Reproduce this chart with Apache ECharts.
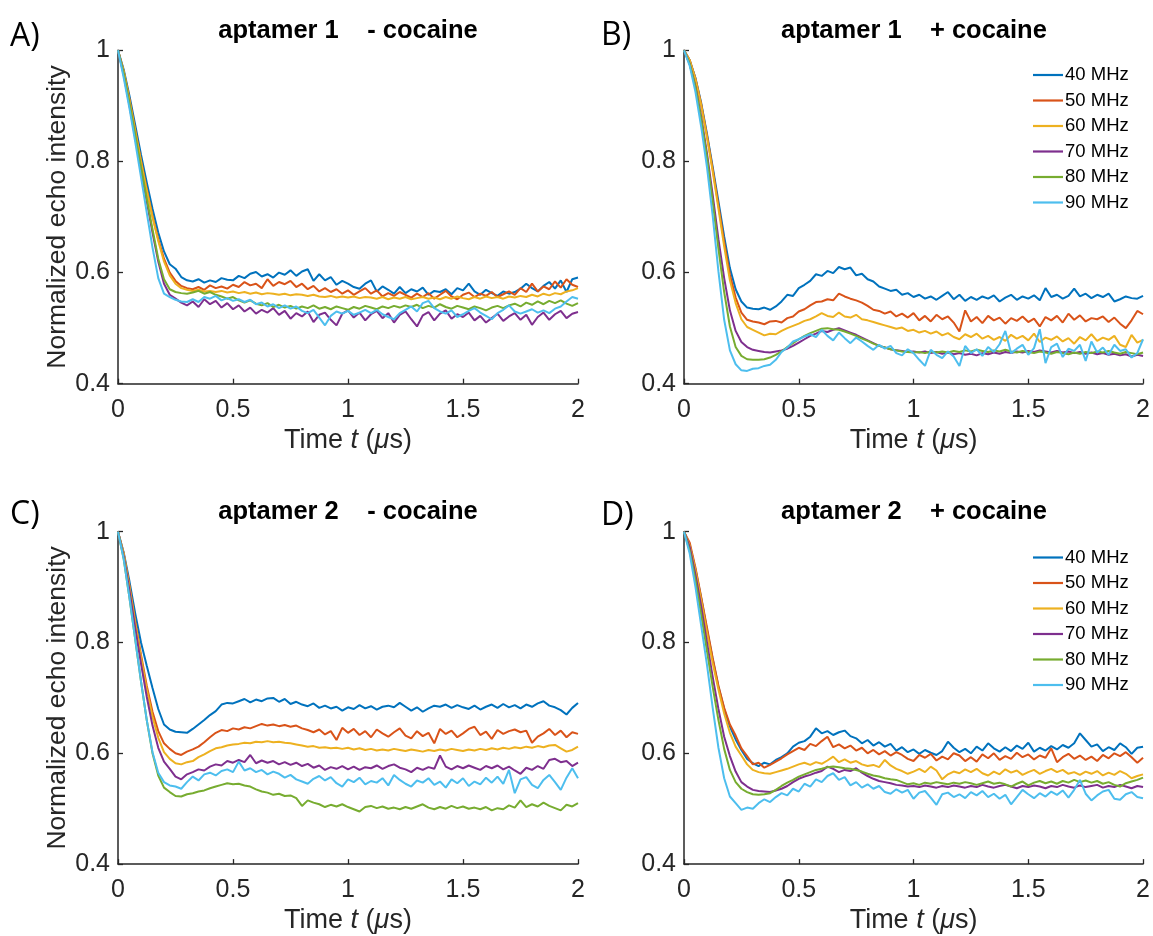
<!DOCTYPE html>
<html>
<head>
<meta charset="utf-8">
<script src="https://cdn.jsdelivr.net/npm/echarts@6/dist/echarts.min.js"></script>
<style>html,body{margin:0;padding:0;background:#fff;}#c{width:1153px;height:936px;}</style>
</head>
<body>
<div id="c"></div>
<script>
// ---------- DATA ----------
const T = [0,0.025,0.05,0.075,0.1,0.125,0.15,0.175,0.2,0.225,0.25,0.275,0.3,
0.325,0.35,0.375,0.4,0.425,0.45,0.475,0.5,
0.525,0.55,0.575,0.6,0.625,0.65,0.675,0.7,
0.725,0.75,0.775,0.8,0.825,0.85,0.875,0.9,
0.925,0.95,0.975,1,1.025,1.05,1.075,1.1,
1.125,1.15,1.175,1.2,1.225,1.25,1.275,1.3,
1.325,1.35,1.375,1.4,1.425,1.45,1.475,1.5,
1.525,1.55,1.575,1.6,1.625,1.65,1.675,1.7,
1.725,1.75,1.775,1.8,1.825,1.85,1.875,1.9,
1.925,1.95,1.975,2];

const NAMES = ['40 MHz','50 MHz','60 MHz','70 MHz','80 MHz','90 MHz'];
const TITLES = ['aptamer 1    - cocaine','aptamer 1    + cocaine','aptamer 2    - cocaine','aptamer 2    + cocaine'];
const LETTERS = ['A)','B)','C)','D)'];
const X_TICKS = [0,0.5,1,1.5,2];
const Y_TICKS = [0.4,0.6,0.8,1];
const X_LABEL = 'Time {i|t} ({i|\u03bc}s)';
const Y_LABEL = 'Normalized echo intensity';

// Panel A: aptamer 1 - cocaine
const A40 = [1.000,0.965,0.918,0.865,0.812,0.762,0.715,0.672,0.638,0.615,0.607,0.592,0.586,
.584,.588,.582,.586,.583,.590,.587,.586,
.594,.590,.598,.601,.593,.597,.591,.600,
.596,.604,.594,.602,.606,.585,.597,.586,
.592,.578,.585,.580,.574,.571,.580,.586,
.566,.575,.569,.562,.574,.563,.570,.566,
.573,.560,.567,.565,.570,.561,.572,.568,
.580,.566,.560,.569,.563,.558,.566,.562,
.565,.571,.580,.572,.566,.576,.583,.571,
.586,.565,.588,.591];
const A50 = [1.000,0.962,0.912,0.857,0.802,0.750,0.702,0.660,0.625,0.600,0.585,0.576,0.572,
.570,.574,.569,.577,.572,.575,.571,.578,
.574,.583,.577,.580,.572,.588,.576,.583,
.579,.585,.574,.580,.570,.576,.566,.572,
.565,.570,.562,.568,.560,.566,.572,.562,
.568,.557,.563,.558,.565,.560,.555,.562,
.556,.563,.553,.560,.567,.557,.552,.560,
.564,.556,.562,.558,.565,.556,.561,.566,
.560,.572,.565,.580,.566,.575,.570,.584,
.573,.588,.578,.574];
const A60 = [1.000,0.962,0.910,0.855,0.800,0.748,0.700,0.657,0.620,0.595,0.580,0.572,0.569,
.567,.569,.566,.567,.565,.567,.564,.566,
.563,.565,.562,.564,.561,.563,.562,.560,
.562,.559,.561,.560,.558,.560,.557,.556,
.558,.555,.557,.555,.557,.554,.556,.555,
.553,.556,.552,.555,.553,.556,.552,.554,
.556,.553,.555,.552,.556,.553,.557,.554,
.552,.556,.553,.557,.554,.556,.553,.557,
.555,.558,.556,.560,.557,.562,.559,.563,
.561,.566,.568,.572];
const A70 = [1.000,0.955,0.900,0.842,0.785,0.728,0.672,0.620,0.580,0.560,0.553,0.546,0.541,
.548,.538,.552,.543,.549,.537,.545,.534,
.541,.530,.537,.526,.533,.528,.536,.524,
.531,.517,.527,.521,.530,.511,.524,.528,
.515,.505,.526,.532,.519,.528,.514,.525,
.531,.518,.527,.510,.524,.530,.516,.503,
.523,.529,.514,.526,.532,.517,.525,.520,
.528,.514,.522,.510,.518,.526,.513,.521,
.527,.515,.524,.506,.520,.528,.515,.525,
.531,.518,.526,.529];
const A80 = [1.000,0.958,0.905,0.848,0.790,0.733,0.678,0.625,0.588,0.570,0.565,0.563,0.562,
.564,.567,.562,.565,.560,.557,.553,.556,
.550,.546,.550,.544,.541,.545,.538,.542,
.537,.540,.535,.539,.536,.541,.535,.538,
.534,.539,.536,.533,.538,.535,.540,.537,
.534,.539,.536,.540,.537,.541,.538,.542,
.536,.540,.537,.543,.538,.535,.540,.537,
.534,.539,.536,.532,.537,.540,.536,.541,
.544,.539,.546,.542,.548,.543,.549,.545,
.550,.544,.540,.545];
const A90 = [1.000,0.950,0.895,0.835,0.772,0.708,0.645,0.590,0.562,0.556,0.551,0.548,0.547,
.552,.547,.556,.553,.558,.550,.554,.549,
.552,.547,.551,.543,.546,.539,.543,.536,
.541,.535,.539,.531,.527,.533,.519,.505,
.522,.530,.526,.531,.524,.528,.533,.527,
.533,.525,.520,.516,.527,.533,.539,.530,
.545,.549,.536,.530,.526,.532,.520,.525,
.531,.536,.528,.522,.516,.527,.533,.541,
.530,.526,.530,.534,.528,.532,.527,.535,
.539,.548,.556,.553];

// Panel B: aptamer 1 + cocaine
const B40 = [1.000,0.982,0.950,0.905,0.850,0.790,0.728,0.665,0.608,0.570,0.548,0.537,0.535,
.534,.537,.533,.539,.548,.560,.558,.572,
.578,.585,.597,.594,.603,.599,.610,.606,
.609,.595,.598,.588,.584,.575,.571,.567,
.569,.560,.563,.556,.560,.553,.557,.551,
.558,.565,.552,.560,.549,.556,.551,.557,
.553,.559,.548,.555,.560,.551,.557,.553,
.559,.550,.572,.556,.560,.553,.558,.571,
.557,.562,.554,.560,.556,.562,.548,.552,
.557,.554,.553,.558];
const B50 = [1.000,0.982,0.949,0.903,0.847,0.786,0.721,0.655,0.596,0.555,0.528,0.515,0.512,
.510,.507,.512,.513,.510,.518,.521,.530,
.534,.541,.547,.548,.552,.550,.562,.557,
.553,.550,.546,.540,.533,.531,.526,.530,
.521,.526,.519,.527,.514,.522,.512,.524,
.516,.521,.510,.494,.532,.512,.520,.509,
.522,.514,.519,.508,.518,.513,.521,.511,
.517,.503,.520,.514,.522,.510,.526,.515,
.523,.512,.518,.516,.521,.511,.519,.508,
.500,.514,.531,.525];
const B60 = [1.000,0.982,0.948,0.901,0.844,0.782,0.715,0.647,0.586,0.545,0.516,0.502,0.497,
.492,.487,.490,.489,.495,.500,.504,.508,
.513,.516,.521,.527,.522,.520,.528,.521,
.519,.524,.516,.514,.511,.508,.505,.502,
.499,.501,.495,.497,.492,.495,.490,.494,
.487,.491,.484,.480,.489,.484,.490,.481,
.486,.479,.484,.477,.488,.481,.486,.478,
.490,.475,.483,.479,.485,.476,.482,.472,
.484,.478,.489,.477,.483,.479,.486,.470,
.466,.488,.474,.479];
const B70 = [1.000,0.975,0.935,0.880,0.815,0.740,0.660,0.590,0.532,0.495,0.475,0.466,0.461,
.459,.457,.456,.458,.460,.463,.468,.474,
.480,.486,.490,.495,.493,.497,.500,.496,
.492,.488,.483,.478,.473,.468,.465,.462,
.460,.459,.457,.458,.456,.458,.455,.457,
.454,.456,.453,.455,.452,.454,.451,.455,
.453,.456,.454,.457,.455,.458,.456,.459,
.457,.460,.458,.456,.459,.456,.458,.455,
.457,.454,.456,.453,.455,.452,.454,.451,
.453,.449,.452,.450];
const B80 = [1.000,0.975,0.933,0.876,0.808,0.728,0.643,0.565,0.503,0.466,0.450,0.444,0.443,
.443,.444,.447,.452,.458,.466,.473,.480,
.486,.491,.495,.499,.500,.498,.497,.494,
.490,.486,.481,.477,.472,.468,.465,.462,
.460,.458,.457,.456,.457,.455,.458,.456,
.458,.456,.459,.457,.460,.458,.461,.459,
.457,.460,.458,.461,.458,.456,.459,.457,
.455,.458,.456,.454,.457,.455,.453,.456,
.454,.457,.455,.458,.456,.459,.456,.454,
.457,.455,.453,.456];
const B90 = [1.000,0.972,0.925,0.862,0.790,0.702,0.602,0.515,0.460,0.435,0.424,0.423,0.427,
.428,.432,.434,.443,.457,.465,.476,.480,
.485,.489,.484,.497,.486,.478,.492,.482,
.473,.483,.476,.468,.461,.470,.463,.468,
.455,.451,.462,.455,.443,.432,.461,.452,
.446,.458,.449,.432,.468,.455,.462,.450,
.466,.457,.471,.495,.455,.463,.470,.452,
.464,.498,.437,.466,.472,.448,.463,.459,
.470,.441,.476,.456,.465,.452,.470,.459,
.462,.447,.455,.480];

// Panel C: aptamer 2 - cocaine
const C40 = [1.000,0.962,0.910,0.852,0.800,0.758,0.718,0.680,0.652,0.643,0.639,0.638,0.637,
.644,.652,.660,.669,.676,.688,.691,.690,
.694,.698,.692,.697,.694,.699,.700,.693,
.698,.689,.693,.688,.685,.690,.682,.686,
.681,.684,.677,.683,.680,.687,.681,.685,
.679,.684,.686,.683,.691,.684,.677,.683,
.675,.681,.686,.684,.688,.682,.687,.683,
.680,.686,.679,.684,.688,.682,.689,.683,
.687,.681,.688,.684,.690,.694,.686,.683,
.678,.670,.682,.691];
const C50 = [1.000,0.960,0.902,0.838,0.778,0.722,0.675,0.640,0.618,0.608,0.600,0.597,0.603,
.607,.612,.620,.629,.637,.642,.640,.645,
.643,.647,.645,.649,.653,.650,.652,.649,
.651,.648,.650,.645,.642,.638,.643,.634,
.640,.624,.646,.637,.644,.633,.640,.629,
.643,.636,.630,.638,.645,.632,.627,.640,
.631,.637,.618,.644,.635,.641,.629,.636,
.644,.648,.633,.639,.626,.642,.635,.640,
.643,.638,.641,.619,.630,.636,.644,.633,
.641,.629,.638,.635];
const C60 = [1.000,0.960,0.900,0.835,0.773,0.716,0.666,0.628,0.602,0.590,0.582,0.580,0.584,
.586,.593,.598,.604,.609,.611,.614,.616,
.617,.619,.618,.621,.620,.622,.620,.621,
.619,.618,.616,.614,.612,.613,.610,.611,
.609,.610,.608,.610,.607,.609,.606,.608,
.605,.607,.605,.608,.606,.604,.607,.605,
.603,.606,.604,.607,.605,.608,.606,.604,
.607,.605,.608,.606,.609,.607,.610,.608,
.611,.609,.612,.610,.613,.611,.614,.615,
.609,.603,.606,.612];
const C70 = [1.000,0.955,0.893,0.826,0.762,0.702,0.650,0.610,0.585,0.572,0.558,0.553,0.562,
.566,.571,.569,.576,.580,.578,.586,.583,
.588,.584,.597,.582,.587,.583,.586,.580,
.584,.579,.583,.577,.581,.574,.578,.570,
.575,.572,.577,.571,.576,.570,.575,.573,
.578,.572,.577,.580,.574,.571,.566,.574,
.570,.575,.572,.596,.576,.571,.577,.573,
.578,.574,.570,.577,.573,.578,.571,.576,
.569,.563,.574,.570,.577,.572,.588,.590,
.584,.586,.577,.583];
const C80 = [1.000,0.950,0.880,0.805,0.730,0.660,0.600,0.560,0.538,0.530,0.523,0.522,0.526,
.528,.531,.533,.537,.540,.543,.546,.544,
.545,.542,.540,.535,.531,.529,.525,.527,
.523,.524,.519,.505,.515,.511,.508,.503,
.507,.504,.508,.503,.499,.495,.503,.505,
.501,.504,.500,.502,.499,.503,.500,.504,
.508,.502,.499,.503,.500,.505,.501,.504,
.500,.502,.499,.503,.497,.501,.499,.506,
.502,.515,.503,.508,.504,.511,.505,.501,
.497,.507,.504,.510];
const C90 = [1.000,0.950,0.880,0.805,0.730,0.660,0.602,0.565,0.548,0.542,0.540,0.536,0.548,
.558,.551,.562,.565,.560,.568,.571,.566,
.585,.569,.573,.566,.570,.562,.567,.563,
.556,.561,.553,.549,.545,.554,.559,.551,
.557,.546,.540,.553,.548,.556,.544,.550,
.547,.555,.542,.561,.552,.545,.540,.551,
.547,.555,.543,.549,.538,.553,.546,.555,
.541,.549,.544,.556,.547,.558,.545,.570,
.528,.553,.557,.543,.537,.552,.561,.548,
.534,.556,.573,.555];

// Panel D: aptamer 2 + cocaine
const D40 = [1.000,0.975,0.932,0.880,0.823,0.770,0.720,0.680,0.648,0.625,0.606,0.590,0.582,
.577,.583,.580,.588,.593,.600,.612,.619,
.622,.630,.645,.636,.640,.633,.638,.641,
.631,.627,.618,.624,.614,.620,.612,.617,
.605,.611,.602,.607,.599,.606,.601,.597,
.604,.621,.610,.602,.608,.600,.612,.605,
.618,.609,.603,.611,.604,.614,.608,.619,
.603,.610,.605,.613,.607,.615,.610,.618,
.636,.624,.612,.616,.604,.611,.606,.618,
.611,.599,.610,.612];
const D50 = [1.000,0.980,0.935,0.882,0.827,0.772,0.722,0.682,0.652,0.632,0.609,0.595,0.580,
.583,.574,.579,.585,.591,.598,.604,.610,
.606,.617,.613,.622,.630,.611,.616,.609,
.614,.605,.610,.600,.606,.598,.604,.596,
.602,.597,.590,.586,.597,.592,.599,.587,
.594,.589,.600,.596,.586,.593,.585,.598,
.591,.600,.588,.595,.590,.601,.593,.598,
.589,.596,.592,.609,.584,.593,.599,.590,
.596,.588,.594,.586,.597,.591,.600,.595,
.602,.593,.583,.592];
const D60 = [1.000,0.975,0.930,0.876,0.818,0.763,0.715,0.672,0.637,0.612,0.596,0.580,0.570,
.566,.564,.563,.566,.569,.572,.576,.580,
.583,.579,.584,.581,.587,.594,.584,.589,
.583,.586,.580,.577,.579,.575,.588,.578,
.572,.568,.563,.567,.572,.566,.576,.569,
.553,.562,.567,.564,.571,.566,.572,.564,
.560,.567,.562,.571,.565,.569,.561,.566,
.570,.563,.568,.572,.566,.570,.563,.566,
.561,.567,.563,.568,.560,.565,.561,.568,
.563,.555,.559,.562];
const D70 = [1.000,0.972,0.922,0.865,0.800,0.738,0.680,0.630,0.595,0.567,0.548,0.540,0.534,
.532,.531,.530,.533,.536,.541,.548,.554,
.558,.561,.565,.568,.576,.572,.566,.570,
.568,.573,.565,.559,.554,.550,.548,.546,
.543,.542,.540,.541,.539,.542,.540,.538,
.541,.539,.542,.540,.538,.541,.539,.543,
.540,.538,.541,.543,.540,.537,.541,.539,
.542,.540,.537,.541,.539,.543,.540,.538,
.542,.539,.541,.543,.538,.541,.539,.543,
.540,.537,.541,.539];
const D80 = [1.000,0.965,0.912,0.850,0.785,0.720,0.660,0.608,0.570,0.548,0.536,0.530,0.526,
.525,.526,.528,.534,.541,.547,.552,.558,
.562,.566,.570,.572,.575,.576,.575,.573,
.572,.570,.567,.563,.560,.558,.555,.553,
.552,.548,.544,.546,.543,.547,.545,.548,
.546,.544,.547,.545,.548,.546,.543,.546,
.549,.545,.547,.544,.540,.545,.549,.542,
.547,.550,.546,.549,.545,.550,.547,.552,
.548,.551,.547,.550,.545,.548,.543,.540,
.546,.549,.552,.556];
const D90 = [1.000,0.960,0.900,0.830,0.760,0.682,0.610,0.555,0.522,0.510,0.498,0.502,0.500,
.510,.517,.512,.521,.528,.524,.536,.531,
.545,.540,.553,.548,.559,.564,.552,.557,
.542,.548,.538,.544,.536,.541,.530,.527,
.535,.529,.534,.518,.529,.532,.520,.507,
.526,.529,.521,.526,.519,.530,.524,.532,
.521,.527,.518,.525,.508,.521,.534,.526,
.519,.528,.522,.531,.525,.533,.520,.534,
.552,.527,.515,.524,.531,.534,.518,.516,
.526,.530,.521,.519];

// ---------- STYLE / LAYOUT ----------
const COLORS = ['#0072BD','#D95319','#EDB120','#7E2F8E','#77AC30','#4DBEEE'];
const FONT = '"Liberation Sans", Arial, Helvetica, sans-serif';
const AXIS_COLOR = '#262626';
const GRIDS = [
  {left:118, top:50.3, width:460, height:333.4},
  {left:684, top:50.3, width:460, height:333.4},
  {left:118, top:531.7, width:460, height:332.4},
  {left:684, top:531.7, width:460, height:332.4}
];
const TITLE_Y = [30.5, 30.5, 512, 512];
const LETTER_POS = [[10,36.5],[601,35.5],[10,515],[601,516]];
const SHOW_YNAME = [true,false,true,false];
const LEGEND_TOP = {1: 65.5, 3: 548};

const panelData = [[A40,A50,A60,A70,A80,A90],[B40,B50,B60,B70,B80,B90],[C40,C50,C60,C70,C80,C90],[D40,D50,D60,D70,D80,D90]];

const grid = [], xAxis = [], yAxis = [], series = [], graphic = [], legend = [];

GRIDS.forEach((g, i) => {
  grid.push(Object.assign({containLabel:false}, g));
  xAxis.push({
    gridIndex:i, type:'value',
    min:X_TICKS[0], max:X_TICKS[X_TICKS.length-1], interval:X_TICKS[1]-X_TICKS[0],
    axisLine:{show:true, onZero:false, lineStyle:{color:AXIS_COLOR, width:1.5}},
    axisTick:{show:true, inside:true, length:5, lineStyle:{color:AXIS_COLOR, width:1.3}},
    axisLabel:{fontSize:25, color:AXIS_COLOR, margin:14, fontFamily:FONT, formatter:v=>String(+v.toFixed(2))},
    splitLine:{show:false},
    name:X_LABEL, nameLocation:'middle', nameGap:43,
    nameTextStyle:{fontSize:27, color:AXIS_COLOR, fontFamily:FONT,
      rich:{i:{fontSize:27, fontStyle:'italic', color:AXIS_COLOR, fontFamily:FONT}}}
  });
  yAxis.push({
    gridIndex:i, type:'value',
    min:Y_TICKS[0], max:Y_TICKS[Y_TICKS.length-1], interval:0.2,
    axisLine:{show:true, onZero:false, lineStyle:{color:AXIS_COLOR, width:1.5}},
    axisTick:{show:true, inside:true, length:5, lineStyle:{color:AXIS_COLOR, width:1.3}},
    axisLabel:{fontSize:25, color:AXIS_COLOR, margin:8, fontFamily:FONT, formatter:v=>(Math.abs(v-1)<1e-6?'1':v.toFixed(1))},
    splitLine:{show:false},
    name: SHOW_YNAME[i] ? Y_LABEL : '', nameLocation:'middle', nameGap:47,
    nameTextStyle:{fontSize:26.5, color:AXIS_COLOR, fontFamily:FONT}
  });
  panelData[i].forEach((arr, j) => {
    series.push({
      type:'line', name:NAMES[j], xAxisIndex:i, yAxisIndex:i,
      data:T.map((t,k)=>[t, arr[k]]),
      symbol:'none', showSymbol:false, smooth:false,
      lineStyle:{color:COLORS[j], width:2},
      itemStyle:{color:COLORS[j]},
      emphasis:{disabled:true}
    });
  });
  graphic.push({
    type:'text', x:g.left + g.width/2, y:TITLE_Y[i], silent:true,
    style:{text:TITLES[i], fill:'#000', fontSize:25.5, fontWeight:'bold', fontFamily:FONT, align:'center', verticalAlign:'middle'}
  });
  graphic.push({
    type:'text', x:LETTER_POS[i][0], y:LETTER_POS[i][1], silent:true,
    style:{text:LETTERS[i], fill:'#000', fontSize:32, fontFamily:'"Open Sans", "Noto Sans", sans-serif', align:'left', verticalAlign:'middle'}
  });
  if (LEGEND_TOP[i] !== undefined) {
    legend.push({
      show:true, orient:'vertical', left:1033, top:LEGEND_TOP[i],
      icon:'rect', itemWidth:30, itemHeight:2.2, itemGap:6.5, padding:0,
      data:NAMES, selectedMode:false,
      textStyle:{fontSize:18.5, color:'#000', fontFamily:FONT, padding:[0,0,0,-3]}
    });
  }
});

const chart = echarts.init(document.getElementById('c'), null, {renderer:'canvas'});
chart.setOption({
  animation:false,
  backgroundColor:'#ffffff',
  grid, xAxis, yAxis, series, graphic, legend
});
</script>
</body>
</html>
